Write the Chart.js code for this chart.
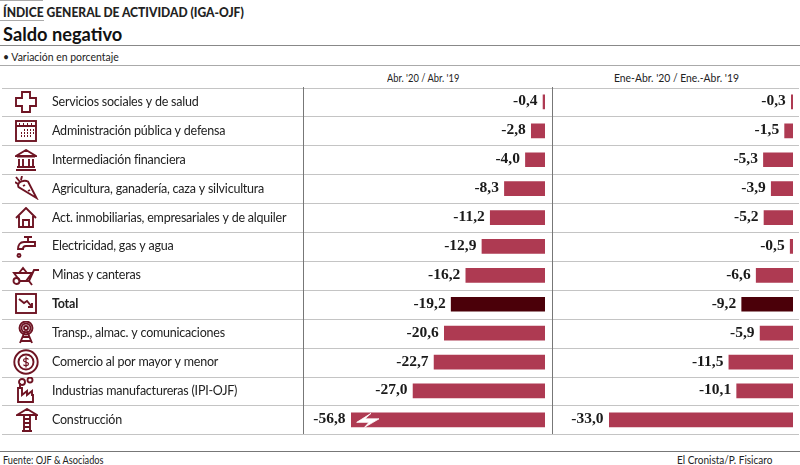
<!DOCTYPE html>
<html><head><meta charset="utf-8">
<script src="https://cdn.jsdelivr.net/npm/chart.js@4"></script>
<style>
html,body{margin:0;padding:0;background:#fff;width:800px;height:465px;overflow:hidden}
body{position:relative;font-family:Lato,sans-serif;color:#222}
.t{position:absolute;white-space:nowrap;line-height:1;transform-origin:0 0}
.r{position:absolute;height:1px;background:#b4b4b4}
canvas{position:absolute;left:0;top:0}
svg{position:absolute;fill:none;stroke:#6e1423;stroke-width:1.9}
</style></head><body>
<div class="r" style="left:0;top:0;width:43px;background:#aaa"></div>
<div class="t" style="left:3px;top:3px;font:900 14px Lato;color:#222;transform:scaleX(.86)">ÍNDICE GENERAL DE ACTIVIDAD (IGA-OJF)</div>
<div class="r" style="left:0;top:20px;width:44px;background:#aaa"></div>
<div class="t" style="left:3px;top:22px;font:bold 19px Lato;color:#111;transform:scaleX(.96)">Saldo negativo</div>
<div class="r" style="left:0;top:45px;width:800px;background:#888"></div>
<div class="t" style="left:3px;top:49px;font:12px Lato;transform:scaleX(.87)">• Variación en porcentaje</div>
<div class="r" style="left:0;top:65px;width:800px;background:#aaa"></div>
<div class="t" style="left:387px;top:71px;font:11.5px Lato;transform:scaleX(.81)">Abr. '20 / Abr. '19</div>
<div class="t" style="left:614px;top:71px;font:11.5px Lato;transform:scaleX(.90)">Ene-Abr. '20 / Ene.-Abr. '19</div>
<div id="lines"></div>
<div class="r" style="left:303px;top:87px;width:1px;height:347px;background:#777"></div>
<div class="r" style="left:552px;top:87px;width:1px;height:347px;background:#777"></div>
<div class="r" style="left:0;top:451px;width:800px;background:#777"></div>
<div class="t" style="left:3px;top:453px;font:11.5px Lato;transform:scaleX(.80)">Fuente: OJF &amp; Asociados</div>
<div class="t" style="left:677px;top:453px;font:11.5px Lato;transform:scaleX(.87)">El Cronista/P. Fisicaro</div>

<svg style="left:15px;top:91px" width="22" height="22" viewBox="0 0 22 22"><path d="M7 1h8v6h6v8h-6v6H7v-6H1V7h6z"/></svg>
<svg style="left:15px;top:120px" width="22" height="22" viewBox="0 0 22 22"><rect x="1" y="1" width="20" height="20"/><path d="M1 6h20M4 4h1M8 4h1M12 4h1M16 4h1M9 10h1M12 10h1M15 10h1M18 10h1M6 13h1M9 13h1M12 13h1M15 13h1M18 13h1M6 16h1M9 16h1M12 16h1M15 16h1" stroke-width="1.8"/></svg>
<svg style="left:15px;top:149px" width="22" height="22" viewBox="0 0 22 22"><path d="M11 1 1 7h20zM2 7.500h18M4 10v7M8 10v7M14 10v7M18 10v7M2 18h18M1 21h20"/></svg>
<svg style="left:15px;top:176px" width="24" height="24" viewBox="0 0 24 24"><path d="M21.500 22 3.500 11C2 8 5 5 8 5c2-.5 4 0 5 .5zM5 6 1 1M6 4l1-4M3 8 0 6M8 10l2-1M13 15l2-1"/></svg>
<svg style="left:15px;top:207px" width="22" height="22" viewBox="0 0 22 22"><path d="M1 11 11 1l10 10M4 9v11h14V9M8 20v-7h6v7"/></svg>
<svg style="left:16px;top:236px" width="20" height="22" viewBox="0 0 20 22"><path d="M8 1h8M12 1v5M19 6H8C4 6 2 9 2 13h5c0-2 1-3 3-3h9z"/><circle cx="3" cy="19.500" r="1.500"/></svg>
<svg style="left:12px;top:264px" width="28" height="22" viewBox="0 0 28 22"><path d="M2 9h18l-6 8H8zM7 9l4-5 4 5M7.500 17H17l5-11h5M17 17l3 4"/><circle cx="4.500" cy="17" r="3"/></svg>
<svg style="left:15px;top:293px" width="22" height="21" viewBox="0 0 22 21"><rect x="1" y="1" width="20" height="19"/><path d="M4 6l5 4 3-2 5 6M17 10v4h-4"/></svg>
<svg style="left:17px;top:321px" width="18" height="23" viewBox="0 0 18 23"><circle cx="9" cy="7" r="2"/><circle cx="9" cy="7" r="4.500"/><circle cx="9" cy="7" r="6.500"/><path d="M8 10 3 22M10 10l5 12M6 16h6M4 20h10"/></svg>
<svg style="left:13px;top:349px" width="26" height="26" viewBox="0 0 26 26"><circle cx="13" cy="13" r="11.700"/><circle cx="13" cy="13" r="7.500"/><path d="M15.500 10.500c-1-1.500-5-1.500-5 .8s5 1.200 5 3.500-4 2.500-5 .8M13 7.500v11" stroke-width="1.200"/></svg>
<svg style="left:16px;top:377px" width="22" height="26" viewBox="0 0 22 26"><path d="M2 25V11h4v7l5-4v4l5-4v4h1V25zM4 11V6"/><circle cx="6" cy="5" r="3"/><circle cx="14" cy="3" r="2.500"/></svg>
<svg style="left:16px;top:408px" width="22" height="24" viewBox="0 0 22 24"><path d="M1 7 11 1l10 6zM8 7v16M14 7v16M6 23h10M8 11h6M8 15h6M8 19h6M20 7v5"/></svg>

<canvas id="left" width="800" height="465"></canvas>
<canvas id="right" width="800" height="465"></canvas>
<script>
const categories = ["Servicios sociales y de salud","Administración pública y defensa","Intermediación financiera","Agricultura, ganadería, caza y silvicultura","Act. inmobiliarias, empresariales y de alquiler","Electricidad, gas y agua","Minas y canteras","Total","Transp., almac. y comunicaciones","Comercio al por mayor y menor","Industrias manufactureras (IPI-OJF)","Construcción"];
const abrValues = [-0.4,-2.8,-4.0,-8.3,-11.2,-12.9,-16.2,-19.2,-20.6,-22.7,-27.0,-56.8];
const eneAbrValues = [-0.3,-1.5,-5.3,-3.9,-5.2,-0.5,-6.6,-9.2,-5.9,-11.5,-10.1,-33.0];
const BAR = '#ae3a52', TOTAL = '#4b0009';
const colors = categories.map(c => c === 'Total' ? TOTAL : BAR);
const fmt = v => v.toFixed(1).replace('.', ',');
const top0 = 87.5, rowH = 28.9;
const linesEl = document.getElementById('lines');
for (let i = 0; i <= categories.length; i++) {
  const d = document.createElement('div');
  d.className = 'r';
  d.style.cssText = `left:2px;top:${Math.round(top0 + i*rowH)}px;width:797px;background:#c4c4c4`;
  linesEl.appendChild(d);
}
const tightLabels = {
  id: 'tightLabels',
  beforeDraw(chart) { chart.ctx.letterSpacing = '-0.22px'; }
};
const valueLabels = {
  id: 'valueLabels',
  afterDatasetsDraw(chart) {
    const { ctx, scales: { x, y }, chartArea } = chart;
    const vals = chart.data.datasets[0].data;
    ctx.save();
    ctx.letterSpacing = '0px';
    ctx.font = 'bold 15.5px "Liberation Serif"';
    ctx.fillStyle = '#1a1a1a';
    ctx.textAlign = 'right';
    ctx.textBaseline = 'middle';
    vals.forEach((v, i) => {
      const px = Math.max(x.getPixelForValue(v), chartArea.left);
      ctx.fillText(fmt(v), px - 5.5, y.getPixelForValue(i) - 0.5);
    });
    ctx.restore();
  }
};
const breakMark = {
  id: 'breakMark',
  afterDatasetsDraw(chart) {
    const { ctx, scales: { y }, chartArea } = chart;
    const vals = chart.data.datasets[0].data;
    const idx = vals.findIndex(v => v < chart.scales.x.min);
    if (idx < 0) return;
    const cy = y.getPixelForValue(idx), l = chartArea.left;
    ctx.save();
    ctx.fillStyle = '#fff';
    ctx.strokeStyle = '#fff';
    ctx.lineWidth = 0.8;
    ctx.beginPath();
    ctx.moveTo(l + 5.7, cy + 2.5);
    ctx.lineTo(l + 20, cy - 6.5);
    ctx.lineTo(l + 14, cy - 1);
    ctx.lineTo(l + 28, cy - 1);
    ctx.lineTo(l + 13.5, cy + 7.5);
    ctx.lineTo(l + 18, cy + 2.5);
    ctx.closePath();
    ctx.fill();
    ctx.stroke();
    ctx.restore();
  }
};
function build(id, values, left, right, min, withLabels) {
  return new Chart(document.getElementById(id), {
    type: 'bar',
    data: { labels: categories, datasets: [{ data: values, backgroundColor: colors, barThickness: 14, borderWidth: 0 }] },
    options: {
      indexAxis: 'y', responsive: false, animation: false,
      layout: { padding: { left: withLabels ? 52 : left, right: 800 - right, top: 87.5, bottom: 465 - 434.3 } },
      plugins: { legend: { display: false }, tooltip: { enabled: false } },
      scales: {
        x: { display: false, min: min, max: 0 },
        y: {
          display: withLabels,
          grid: { display: false }, border: { display: false },
          afterFit(s) { if (withLabels) s.width = left - 52; },
          ticks: {
            crossAlign: 'far', autoSkip: false, color: '#222', padding: 0,
            font: c => ({ family: 'Lato', size: 12.5, weight: categories[c.index] === 'Total' ? 'bold' : 'normal' })
          }
        }
      }
    },
    plugins: [tightLabels, valueLabels, breakMark]
  });
}
build('left', abrValues, 351, 545, -39.7, true);
build('right', eneAbrValues, 609, 793, -33, false);
</script>
</body></html>
